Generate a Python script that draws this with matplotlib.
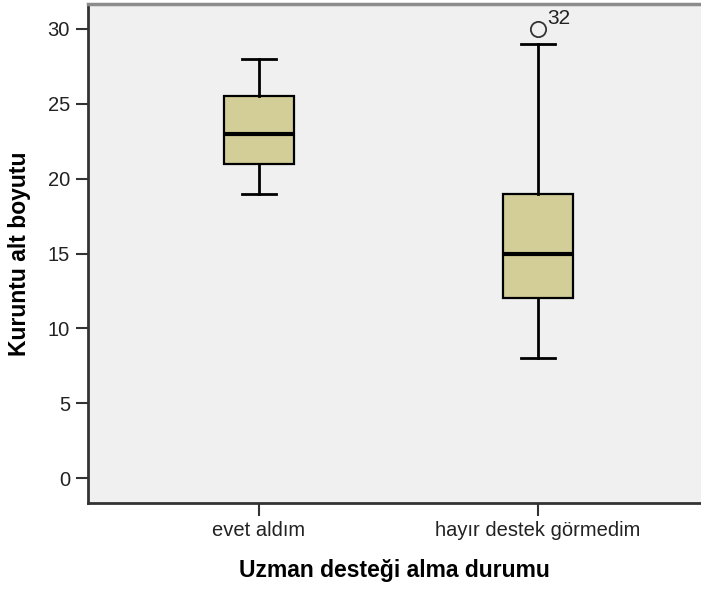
import matplotlib.pyplot as plt

plt.rcParams['font.family'] = ['Liberation Sans', 'DejaVu Sans']

groups = ["evet aldım", "hayır destek görmedim"]
whislo = [19, 8]
q1 = [21, 12]
med = [23, 15]
q3 = [25.5, 19]
whishi = [28, 29]
fliers = [[], [30]]
flier_ids = [[], ["32"]]

stats = []
for i in range(len(groups)):
    stats.append({"whislo": whislo[i], "q1": q1[i], "med": med[i], "q3": q3[i],
                  "whishi": whishi[i], "fliers": fliers[i], "label": groups[i]})

fig = plt.figure(figsize=(7.01, 5.97), dpi=100)
ax = fig.add_axes([88 / 701, 94 / 597, 1 - 88 / 701, 499 / 597])
ax.set_facecolor("#f0f0f0")

ax.bxp(stats, positions=[1, 2], widths=0.254, capwidths=0.125, patch_artist=True,
       boxprops=dict(facecolor="#d3ce98", edgecolor="black", linewidth=1.6),
       whiskerprops=dict(color="black", linewidth=2),
       capprops=dict(color="black", linewidth=2),
       medianprops=dict(color="black", linewidth=3),
       flierprops=dict(marker="o", markerfacecolor="none", markeredgecolor="#333333",
                       markersize=11, markeredgewidth=1.3))

for i in range(len(groups)):
    for v, lab in zip(fliers[i], flier_ids[i]):
        ax.text(i + 1 + 0.032, v + 0.73, lab, ha="left", va="center", fontsize=15, color="#222222")

ax.set_xlim(0.387, 2.584)
ax.set_ylim(-1.67, 31.67)
ax.set_yticks([0, 5, 10, 15, 20, 25, 30])
ax.set_xticks([1, 2])
ax.set_xticklabels(groups)
ax.tick_params(axis="both", labelsize=14.5, length=9, width=1.5, color="#333333", pad=4, labelcolor="#222222")

ax.spines["right"].set_visible(False)
ax.spines["top"].set_color("#8c8c8c")
ax.spines["top"].set_linewidth(2.5)
ax.spines["left"].set_color("#333333")
ax.spines["left"].set_linewidth(2)
ax.spines["bottom"].set_color("#333333")
ax.spines["bottom"].set_linewidth(2)

ax.set_xlabel("Uzman desteği alma durumu", fontsize=16.5, fontweight="bold", labelpad=14)
ax.set_ylabel("Kuruntu alt boyutu", fontsize=16.5, fontweight="bold", labelpad=12)

fig.savefig("out.png", dpi=100)
